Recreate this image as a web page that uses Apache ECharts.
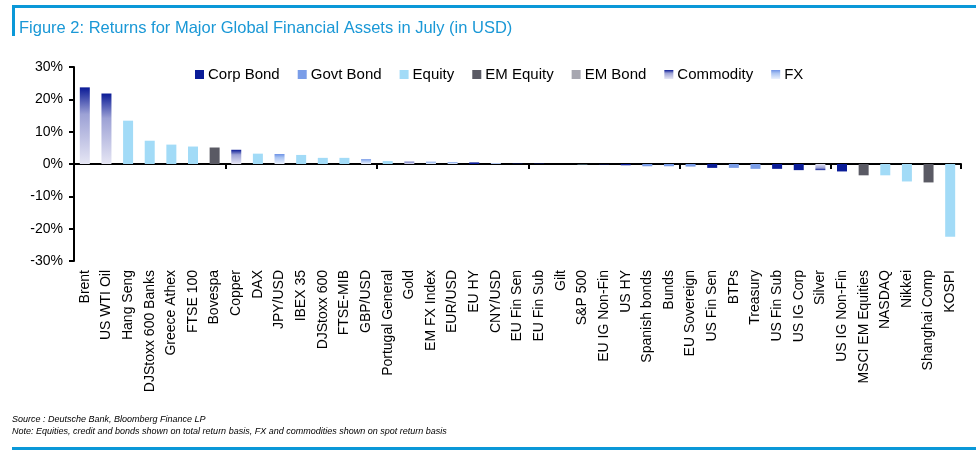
<!DOCTYPE html>
<html>
<head>
<meta charset="utf-8">
<script src="https://cdn.jsdelivr.net/npm/echarts@6/dist/echarts.min.js"></script>
<style>
  html, body { margin: 0; padding: 0; background: #fff; }
  #chart { width: 976px; height: 458px; }
</style>
</head>
<body>
<div id="chart"></div>
<script>
// categories, sorted by July return (%)
const categories = [
  'Brent', 'US WTI Oil', 'Hang Seng', 'DJStoxx 600 Banks', 'Greece Athex', 'FTSE 100',
  'Bovespa', 'Copper', 'DAX', 'JPY/USD', 'IBEX 35', 'DJStoxx 600', 'FTSE-MIB', 'GBP/USD',
  'Portugal General', 'Gold', 'EM FX Index', 'EUR/USD', 'EU HY', 'CNY/USD', 'EU Fin Sen',
  'EU Fin Sub', 'Gilt', 'S&P 500', 'EU IG Non-Fin', 'US HY', 'Spanish bonds', 'Bunds',
  'EU Sovereign', 'US Fin Sen', 'BTPs', 'Treasury', 'US Fin Sub', 'US IG Corp', 'Silver',
  'US IG Non-Fin', 'MSCI EM Equities', 'NASDAQ', 'Nikkei', 'Shanghai Comp', 'KOSPI'
]

const returns = [
  23.7, 21.8, 13.4, 7.2, 6.0, 5.4,
  5.1, 4.4, 3.2, 3.1, 2.8, 1.9, 1.9, 1.5,
  0.9, 0.7, 0.7, 0.6, 0.5, 0.3, 0.1,
  0.1, 0.0, -0.1, -0.1, -0.4, -0.7, -0.7,
  -0.8, -1.2, -1.2, -1.5, -1.5, -1.9, -1.9,
  -2.3, -3.5, -3.5, -5.4, -5.7, -22.5
]

const assetClass = [
  'Commodity', 'Commodity', 'Equity', 'Equity', 'Equity', 'Equity',
  'EM Equity', 'Commodity', 'Equity', 'FX', 'Equity', 'Equity', 'Equity', 'FX',
  'Equity', 'Commodity', 'FX', 'FX', 'Corp Bond', 'FX', 'Corp Bond',
  'Corp Bond', 'Govt Bond', 'Equity', 'Corp Bond', 'Corp Bond', 'Govt Bond', 'Govt Bond',
  'Govt Bond', 'Corp Bond', 'Govt Bond', 'Govt Bond', 'Corp Bond', 'Corp Bond', 'Commodity',
  'Corp Bond', 'EM Equity', 'Equity', 'Equity', 'EM Equity', 'Equity'
]

const legendNames = ['Corp Bond', 'Govt Bond', 'Equity', 'EM Equity', 'EM Bond', 'Commodity', 'FX']
const yTicks = { min: -30, max: 30, interval: 10 }

// dark end at the tip of the bar, light end at the zero line
const grad = (dark, mid, light, flip) => {
  const stops = [
    { offset: 0, color: dark },
    { offset: 0.35, color: mid },
    { offset: 1, color: light }
  ]
  return new echarts.graphic.LinearGradient(0, flip ? 1 : 0, 0, flip ? 0 : 1, stops)
}

const colors = {
  'Corp Bond': () => '#0a1c98',
  'Govt Bond': () => '#7a9de8',
  'Equity': () => '#a2dbf7',
  'EM Equity': () => '#5a5a64',
  'EM Bond': () => '#a7a7b0',
  'Commodity': (neg) => grad('#0a1a96', '#9ca1d5', '#e6e6f4', neg),
  'FX': (neg) => grad('#6d92e6', '#a9c3f2', '#eaf1fd', neg)
}

const series = legendNames.map(name => ({
  name,
  type: 'bar',
  stack: 'all',
  barWidth: 10,
  itemStyle: { color: colors[name](false) },
  data: categories.map((c, i) => {
    if (assetClass[i] !== name) return null
    const v = returns[i]
    return v < 0 ? { value: v, itemStyle: { color: colors[name](true) } } : v
  })
}))

const chart = echarts.init(document.getElementById('chart'))
chart.setOption({
  animation: false,
  title: {
    text: 'Figure 2: Returns for Major Global Financial Assets in July (in USD)',
    left: 14,
    top: 15,
    textStyle: { color: '#1a98d6', fontSize: 16.5, fontWeight: 'normal', fontFamily: 'Liberation Sans' }
  },
  legend: {
    data: legendNames,
    top: 62,
    left: 190,
    itemWidth: 9,
    itemHeight: 9,
    itemGap: 18,
    icon: 'rect',
    textStyle: { fontSize: 15, color: '#000', fontFamily: 'Liberation Sans', padding: [0, 0, 0, -1] }
  },
  grid: { left: 74, right: 15, top: 67, bottom: 197 },
  xAxis: [
    {
      type: 'category',
      data: categories,
      axisLine: { onZero: true, lineStyle: { color: '#000', width: 2 } },
      axisTick: { show: true, length: 5, lineStyle: { color: '#000', width: 2 } },
      axisLabel: { show: false }
    },
    {
      type: 'category',
      data: categories,
      position: 'bottom',
      axisLine: { show: false },
      axisTick: { show: false },
      axisLabel: { rotate: 90, margin: 9, interval: 0, fontSize: 14, color: '#000', fontFamily: 'Liberation Sans' }
    }
  ],
  yAxis: {
    type: 'value',
    min: yTicks.min,
    max: yTicks.max,
    interval: yTicks.interval,
    axisLine: { show: true, onZero: false, lineStyle: { color: '#000', width: 2 } },
    axisTick: { show: true, length: 5, lineStyle: { color: '#000', width: 2 } },
    splitLine: { show: false },
    axisLabel: { formatter: '{value}%', fontSize: 14, color: '#000', margin: 11, fontFamily: 'Liberation Sans' }
  },
  graphic: [
    { type: 'rect', shape: { x: 12, y: 5, width: 964, height: 3 }, style: { fill: '#0a98d8' } },
    { type: 'rect', shape: { x: 12, y: 5, width: 3, height: 31 }, style: { fill: '#0a98d8' } },
    { type: 'rect', shape: { x: 12, y: 447, width: 964, height: 3 }, style: { fill: '#0a98d8' } },
    {
      type: 'text', left: 12, top: 415,
      style: { text: 'Source : Deutsche Bank, Bloomberg Finance LP', font: 'italic 9px Liberation Sans', fill: '#000' }
    },
    {
      type: 'text', left: 12, top: 427,
      style: { text: 'Note: Equities, credit and bonds shown on total return basis, FX and commodities shown on spot return basis', font: 'italic 9px Liberation Sans', fill: '#000' }
    }
  ],
  series
})
</script>
</body>
</html>
